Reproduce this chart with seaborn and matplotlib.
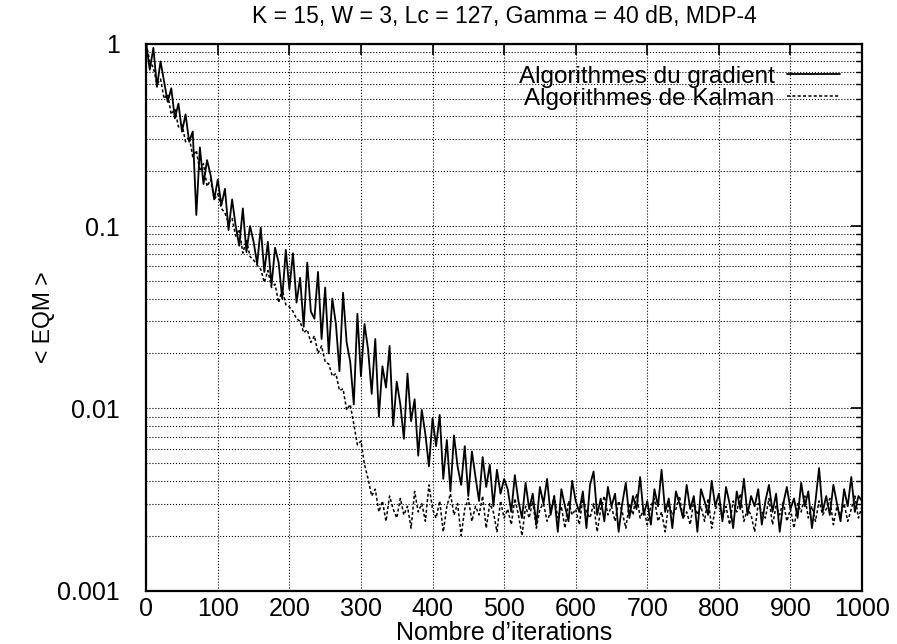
import numpy as np
import pandas as pd
import seaborn as sns
import matplotlib.pyplot as plt
from matplotlib.ticker import FixedLocator, LogLocator, FuncFormatter, NullLocator

# iterations sampled every 5 steps
iterations = np.arange(0, 1001, 5)

# <EQM> - gradient algorithm
eqm_gradient = [
    1.0, 0.72, 0.95, 0.58, 0.80, 0.62, 0.48, 0.57, 0.39, 0.47, 0.33,
    0.41, 0.29, 0.33, 0.115, 0.27, 0.17, 0.23, 0.19, 0.14, 0.18,
    0.13, 0.16, 0.095, 0.14, 0.10, 0.078, 0.125, 0.072, 0.10, 0.082,
    0.062, 0.098, 0.056, 0.082, 0.047, 0.076, 0.063, 0.040, 0.074, 0.045,
    0.071, 0.038, 0.052, 0.028, 0.063, 0.034, 0.031, 0.056, 0.024, 0.046,
    0.020, 0.040, 0.029, 0.016, 0.043, 0.023, 0.018, 0.0105, 0.033, 0.015,
    0.029, 0.021, 0.012, 0.024, 0.009, 0.017, 0.013, 0.022, 0.008, 0.014,
    0.0105, 0.0068, 0.0155, 0.0085, 0.0112, 0.0055, 0.0098, 0.0072, 0.0048, 0.0088,
    0.0062, 0.0092, 0.0041, 0.0067, 0.0035, 0.0071, 0.0048, 0.0038, 0.0062, 0.0033,
    0.0058, 0.0042, 0.0031, 0.0054, 0.0037, 0.0049, 0.0029, 0.0046, 0.0034, 0.0041,
    0.0036, 0.0027, 0.0043, 0.0031, 0.0025, 0.0039, 0.0028, 0.0034, 0.0023, 0.0037,
    0.0030, 0.0041, 0.0026, 0.0033, 0.0021, 0.0036, 0.0029, 0.0024, 0.0040, 0.0031,
    0.0027, 0.0035, 0.0022, 0.0038, 0.0045, 0.0026, 0.0032, 0.0024, 0.0037, 0.0029,
    0.0034, 0.0021, 0.0030, 0.0039, 0.0025, 0.0033, 0.0028, 0.0042, 0.0026, 0.0031,
    0.0023, 0.0036, 0.0029, 0.0046, 0.0027, 0.0032, 0.0022, 0.0035, 0.0030, 0.0025,
    0.0038, 0.0028, 0.0033, 0.0021, 0.0036, 0.0031, 0.0026, 0.0040, 0.0029, 0.0034,
    0.0024, 0.0037, 0.0030, 0.0022, 0.0035, 0.0028, 0.0041, 0.0026, 0.0033, 0.0029,
    0.0036, 0.0023, 0.0031, 0.0038, 0.0027, 0.0034, 0.0021, 0.0030, 0.0037, 0.0028,
    0.0032, 0.0025, 0.0039, 0.0029, 0.0035, 0.0022, 0.0031, 0.0047, 0.0027, 0.0033,
    0.0026, 0.0038, 0.0030, 0.0024, 0.0036, 0.0029, 0.0042, 0.0027, 0.0033, 0.0031,
]

# <EQM> - Kalman algorithm
eqm_kalman = [
    1.0, 0.80, 0.74, 0.60, 0.64, 0.50, 0.53, 0.41, 0.44, 0.35, 0.36,
    0.29, 0.31, 0.24, 0.26, 0.20, 0.22, 0.165, 0.18, 0.14, 0.15,
    0.125, 0.118, 0.104, 0.110, 0.088, 0.096, 0.071, 0.084, 0.068, 0.065,
    0.061, 0.058, 0.049, 0.057, 0.046, 0.048, 0.038, 0.045, 0.037, 0.036,
    0.034, 0.031, 0.030, 0.026, 0.027, 0.023, 0.025, 0.020, 0.022, 0.018,
    0.0175, 0.015, 0.0155, 0.0125, 0.0128, 0.0098, 0.0105, 0.0082, 0.0063, 0.0066,
    0.0049, 0.0041, 0.0033, 0.0036, 0.0027, 0.0031, 0.0024, 0.0033, 0.0028, 0.0025,
    0.0032, 0.0026, 0.0029, 0.0022, 0.0035, 0.0027, 0.0030, 0.0024, 0.0038, 0.0028,
    0.0025, 0.0031, 0.0021, 0.0029, 0.0034, 0.0026, 0.0030, 0.0020, 0.0028, 0.0032,
    0.0024, 0.0029, 0.0026, 0.0033, 0.0022, 0.0030, 0.0027, 0.0021, 0.0031, 0.0025,
    0.0028, 0.0023, 0.0032, 0.0026, 0.0020, 0.0029, 0.0025, 0.0031, 0.0022, 0.0028,
    0.0030, 0.0024, 0.0027, 0.0033, 0.0025, 0.0029, 0.0022, 0.0031, 0.0026, 0.0028,
    0.0023, 0.0032, 0.0027, 0.0025, 0.0030, 0.0021, 0.0028, 0.0033, 0.0026, 0.0029,
    0.0024, 0.0031, 0.0027, 0.0022, 0.0030, 0.0026, 0.0034, 0.0025, 0.0028, 0.0023,
    0.0029, 0.0032, 0.0024, 0.0027, 0.0021, 0.0030, 0.0026, 0.0028, 0.0033, 0.0025,
    0.0027, 0.0023, 0.0031, 0.0026, 0.0029, 0.0024, 0.0032, 0.0022, 0.0028, 0.0030,
    0.0025, 0.0029, 0.0023, 0.0031, 0.0027, 0.0034, 0.0024, 0.0028, 0.0026, 0.0021,
    0.0030, 0.0027, 0.0025, 0.0032, 0.0023, 0.0029, 0.0026, 0.0031, 0.0024, 0.0028,
    0.0022, 0.0030, 0.0027, 0.0033, 0.0025, 0.0029, 0.0024, 0.0031, 0.0026, 0.0028,
    0.0032, 0.0023, 0.0029, 0.0026, 0.0030, 0.0024, 0.0028, 0.0033, 0.0025, 0.0029,
]

x_ticks = [0, 100, 200, 300, 400, 500, 600, 700, 800, 900, 1000]
y_ticks = [0.001, 0.01, 0.1, 1]

sns.set_theme(style="white")
plt.rcParams['font.family'] = ['Liberation Sans', 'DejaVu Sans']
plt.rcParams.update({"text.color": "black", "axes.labelcolor": "black",
                     "xtick.color": "black", "ytick.color": "black"})

df = pd.DataFrame({"iter": iterations, "grad": eqm_gradient, "kal": eqm_kalman})

fig = plt.figure(figsize=(8.97, 6.44), dpi=100)
ax = fig.add_axes([0.163, 0.083, 0.798, 0.849])

sns.lineplot(data=df, x="iter", y="grad", ax=ax, color="black", lw=1.3,
             estimator=None, sort=False, label="Algorithmes du gradient")
sns.lineplot(data=df, x="iter", y="kal", ax=ax, color="black", lw=1.1,
             linestyle=(0, (2, 1.5)), estimator=None, sort=False,
             label="Algorithmes de Kalman")

ax.set_yscale("log")
ax.set_xlim(0, 1000)
ax.set_ylim(0.001, 1)

ax.xaxis.set_major_locator(FixedLocator(x_ticks))
ax.xaxis.set_minor_locator(NullLocator())
ax.yaxis.set_major_locator(FixedLocator(y_ticks))
ax.yaxis.set_minor_locator(LogLocator(base=10, subs=np.arange(2, 10)))
ax.yaxis.set_major_formatter(FuncFormatter(lambda v, p: "%g" % v))

ax.grid(which="major", axis="both", linestyle=":", color="black", lw=0.8)
ax.grid(which="minor", axis="y", linestyle=":", color="black", lw=0.8)

ax.tick_params(which="both", direction="in", top=True, right=True,
               labelsize=18, color="black", labelcolor="black")
ax.tick_params(which="major", length=8, width=1.2)
ax.tick_params(which="minor", length=4, width=1.0)
ax.tick_params(axis="y", pad=19)
ax.tick_params(axis="x", pad=5)
for s in ax.spines.values():
    s.set_color("black")
    s.set_linewidth(1.6)

ax.set_title("K = 15, W = 3, Lc = 127, Gamma = 40 dB, MDP-4", fontsize=16.5,
             pad=15, color="black")
ax.set_xlabel("Nombre d\u2019iterations", fontsize=18, labelpad=0, color="black")
ax.set_ylabel("< EQM >", fontsize=16.5, color="black")
ax.yaxis.set_label_coords(-0.128, 0.5)

leg = ax.legend(loc="upper right", frameon=False, markerfirst=False, fontsize=17.5,
                handlelength=2.2, handletextpad=0.5, labelspacing=0.0,
                borderaxespad=0.5)
for t in leg.get_texts():
    t.set_color("black")

fig.savefig("out.png", dpi=100)
